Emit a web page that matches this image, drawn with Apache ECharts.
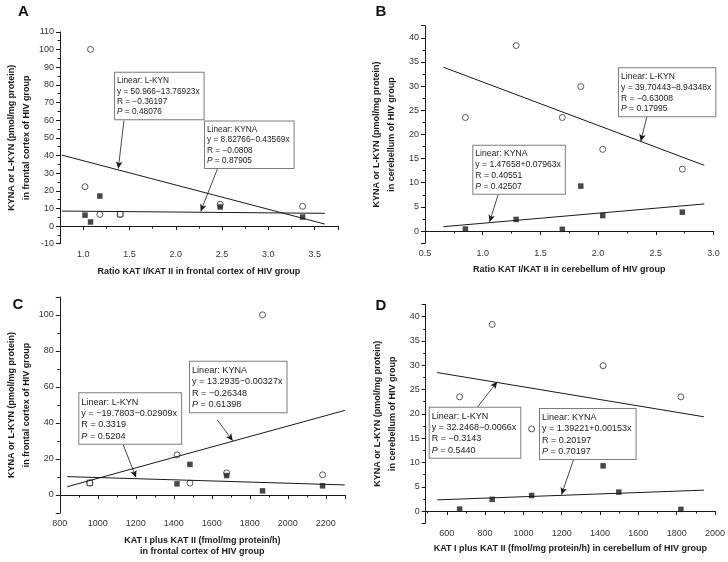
<!DOCTYPE html>
<html>
<head>
<meta charset="utf-8">
<script src="https://cdn.jsdelivr.net/npm/echarts@6/dist/echarts.min.js"></script>
<style>
  html, body { margin: 0; padding: 0; background: #fff; }
  #chart { width: 728px; height: 562px; }
</style>
</head>
<body>
<div id="chart"></div>
<script>
const FONT = '"Liberation Sans", Arial, sans-serif'
const INK = '#1a1a1a'

// frontal cortex (panels A and C), same six subjects in both
const ratioFC = [1.02, 1.08, 1.18, 1.40, 2.48, 3.37]
const katFC = [1417, 1867, 1485, 958, 1678, 2183]
const lkynFC = [22.3, 100.1, 6.6, 6.7, 12.3, 11.2]
const kynaFC = [6.2, 2.3, 17.0, 6.7, 10.8, 5.1]

// cerebellum (panels B and D)
const ratioCB = [0.85, 1.29, 1.69, 1.85, 2.04, 2.73]
const katCB = [667, 837, 1822, 1416, 1043, 1498]
const lkynCB = [23.5, 38.4, 23.5, 29.9, 16.9, 12.8]
const kynaCB = [0.4, 2.4, 0.35, 9.3, 3.2, 3.9]

// the KYNA point drawn hollow (it sits on top of the L-KYN one)
const hollowFC = 3

// fitted lines, end points
const lkynFitA = [[0.77, 40.2], [3.61, 1.1]]
const kynaFitA = [[0.77, 8.5], [3.61, 7.2]]
const lkynFitB = [[0.66, 33.9], [2.92, 13.6]]
const kynaFitB = [[0.66, 0.9], [2.92, 5.6]]
const lkynFitC = [[839, 10.2], [2300, 5.6]]
const kynaFitC = [[839, 4.6], [2300, 47.0]]
const lkynFitD = [[550, 28.5], [1942, 19.4]]
const kynaFitD = [[550, 2.3], [1942, 4.3]]

// text of the fit boxes
const statLkynA = ['Linear: L-KYN', 'y = 50.966\u221213.76923x', 'R = \u22120.36197', 'P = 0.48076']
const statKynaA = ['Linear: KYNA', 'y = 8.82766\u22120.43569x', 'R = \u22120.0808', 'P = 0.87905']
const statLkynB = ['Linear: L-KYN', 'y = 39.70443\u22128.94348x', 'R = \u22120.63008', 'P = 0.17995']
const statKynaB = ['Linear: KYNA', 'y = 1.47658+0.07963x', 'R = 0.40551', 'P = 0.42507']
const statLkynC = ['Linear: L-KYN', 'y = \u221219.7803\u22120.02909x', 'R = 0.3319', 'P = 0.5204']
const statKynaC = ['Linear: KYNA', 'y = 13.2935\u22120.00327x', 'R = \u22120.26348', 'P = 0.61398']
const statLkynD = ['Linear: L-KYN', 'y = 32.2468\u22120.0066x', 'R = \u22120.3143', 'P = 0.5440']
const statKynaD = ['Linear: KYNA', 'y = 1.39221+0.00153x', 'R = 0.20197', 'P = 0.70197']

const yNameFC = 'KYNA or L-KYN (pmol/mg protein)\nin frontal cortex of HIV group'
const yNameCB = 'KYNA or L-KYN (pmol/mg protein)\nin cerebellum of HIV group'

const pairs = (xs, ys) => xs.map((x, i) => [x, ys[i]])
const oneDecimal = v => v.toFixed(1)
const plain = v => String(Math.round(v))

const panels = [
  {
    grid: { left: 60, top: 31.9, width: 277.8, height: 211.8 },
    x: { min: 0.75, max: 3.75, splitNumber: 6, showMinLabel: false, showMaxLabel: false, fmt: oneDecimal,
         name: 'Ratio KAT I/KAT II in frontal cortex of HIV group', nameGap: 22 },
    y: { min: -10, max: 110, interval: 10, name: yNameFC },
    xs: ratioFC, lkyn: lkynFC, kyna: kynaFC, hollow: hollowFC,
    lkynFit: lkynFitA, kynaFit: kynaFitA,
    lkynArrow: [[1.44, 59.7], [1.38, 32.6]],
    kynaArrow: [[2.47, 35.0], [2.27, 8.4]],
  },
  {
    grid: { left: 425, top: 25.7, width: 288.5, height: 217.4 },
    x: { min: 0.5, max: 3.0, interval: 0.5, fmt: oneDecimal,
         name: 'Ratio KAT I/KAT II in cerebellum of HIV group', nameGap: 21 },
    y: { min: -2.5, max: 42.5, splitNumber: 9, showMinLabel: false, showMaxLabel: false, name: yNameCB },
    xs: ratioCB, lkyn: lkynCB, kyna: kynaCB, hollow: -1,
    lkynFit: lkynFitB, kynaFit: kynaFitB,
    lkynArrow: [[2.43, 24.4], [2.37, 18.6]],
    kynaArrow: [[1.14, 8.0], [1.06, 1.9]],
  },
  {
    grid: { left: 59.8, top: 297, width: 285, height: 216 },
    x: { min: 800, max: 2300, interval: 200, showMaxLabel: false, fmt: plain,
         name: 'KAT I plus KAT II (fmol/mg protein/h)\nin frontal cortex of HIV group', nameGap: 22 },
    y: { min: -10, max: 110, splitNumber: 6, showMinLabel: false, showMaxLabel: false, name: yNameFC },
    xs: katFC, lkyn: lkynFC, kyna: kynaFC, hollow: hollowFC,
    lkynFit: lkynFitC, kynaFit: kynaFitC,
    lkynArrow: [[1134, 27.8], [1201, 9.8]],
    kynaArrow: [[1629, 41.7], [1710, 30.2]],
  },
  {
    grid: { left: 425.7, top: 304.5, width: 289.3, height: 218.7 },
    x: { min: 490, max: 2000, splitNumber: 7, showMinLabel: false, fmt: plain,
         name: 'KAT I plus KAT II (fmol/mg protein/h) in cerebellum of HIV group', nameGap: 20 },
    y: { min: -2.5, max: 42.5, splitNumber: 9, showMinLabel: false, showMaxLabel: false, name: yNameCB },
    xs: katCB, lkyn: lkynCB, kyna: kynaCB, hollow: -1,
    lkynFit: lkynFitD, kynaFit: kynaFitD,
    lkynArrow: [[759, 21.3], [863, 26.6]],
    kynaArrow: [[1269, 11.4], [1199, 3.4]],
  },
]

// box positions in pixels: [panel stats, x, y, font size]
const boxes = [
  [statLkynA, 115, 72.7, 8.3],
  [statKynaA, 205, 121.5, 8.3],
  [statLkynB, 619, 68.3, 8.6],
  [statKynaB, 473.3, 145.7, 8.6],
  [statLkynC, 79.3, 393.3, 9.1],
  [statKynaC, 190, 361.7, 9.1],
  [statLkynD, 429.7, 407.7, 9.0],
  [statKynaD, 540, 409, 9.0],
]
const letters = [['A', 18, 4], ['B', 375.5, 4], ['C', 12.5, 297], ['D', 375.5, 298]]

const axisCommon = {
  axisLine: { lineStyle: { color: INK, width: 1 } },
  axisTick: { show: true, length: 4, lineStyle: { color: INK, width: 1 } },
  minorTick: { show: true, splitNumber: 2, length: 2.5, lineStyle: { color: INK, width: 1 } },
  splitLine: { show: false },
  minorSplitLine: { show: false },
  nameLocation: 'middle',
}

const option = {
  animation: false,
  backgroundColor: '#fff',
  grid: panels.map(p => Object.assign({ containLabel: false }, p.grid)),
  xAxis: panels.map((p, i) => Object.assign({}, axisCommon, {
    type: 'value', gridIndex: i, min: p.x.min, max: p.x.max,
    interval: p.x.interval, splitNumber: p.x.splitNumber,
    name: p.x.name, nameGap: p.x.nameGap,
    nameTextStyle: { fontFamily: FONT, fontSize: 9, fontWeight: 'bold', color: INK, lineHeight: 11 },
    axisLabel: {
      fontFamily: FONT, fontSize: 9, color: '#333', margin: 6, formatter: p.x.fmt,
      showMinLabel: p.x.showMinLabel, showMaxLabel: p.x.showMaxLabel,
    },
  })),
  yAxis: panels.map((p, i) => Object.assign({}, axisCommon, {
    type: 'value', gridIndex: i, min: p.y.min, max: p.y.max,
    interval: p.y.interval, splitNumber: p.y.splitNumber,
    name: p.y.name, nameGap: 26, nameRotate: 90,
    nameTextStyle: { fontFamily: FONT, fontSize: 9, fontWeight: 'bold', color: INK, lineHeight: 15 },
    axisLabel: {
      fontFamily: FONT, fontSize: 9, color: '#333', margin: 6, formatter: plain,
      showMinLabel: p.y.showMinLabel, showMaxLabel: p.y.showMaxLabel,
    },
  })),
  series: [],
  graphic: [],
}

const arrowLine = seg => ({
  silent: true,
  symbol: ['none', 'arrow'],
  symbolSize: [5, 7],
  label: { show: false },
  lineStyle: { color: INK, width: 0.8, type: 'solid' },
  emphasis: { disabled: true },
  data: [[{ coord: seg[0] }, { coord: seg[1] }]],
})

panels.forEach((p, i) => {
  option.series.push({
    type: 'scatter', xAxisIndex: i, yAxisIndex: i,
    symbol: 'circle', symbolSize: 6,
    itemStyle: { color: '#fff', borderColor: INK, borderWidth: 0.9 },
    data: pairs(p.xs, p.lkyn),
  })
  option.series.push({
    type: 'scatter', xAxisIndex: i, yAxisIndex: i,
    symbol: 'rect', symbolSize: 5.5,
    itemStyle: { color: INK },
    data: pairs(p.xs, p.kyna).map((d, k) => k === p.hollow
      ? { value: d, itemStyle: { color: '#fff', borderColor: INK, borderWidth: 1 } }
      : d),
  })
  option.series.push({
    type: 'line', xAxisIndex: i, yAxisIndex: i, symbol: 'none',
    lineStyle: { color: INK, width: 1 },
    data: p.lkynFit,
    markLine: arrowLine(p.lkynArrow),
  })
  option.series.push({
    type: 'line', xAxisIndex: i, yAxisIndex: i, symbol: 'none',
    lineStyle: { color: INK, width: 1 },
    data: p.kynaFit,
    markLine: arrowLine(p.kynaArrow),
  })
})

boxes.forEach(([lines, x, y, fs]) => {
  const lh = fs * 1.25
  option.graphic.push({
    type: 'text', x: x, y: y, z: 100,
    style: {
      text: lines.map(l => l.startsWith('P ') ? '{i|P}' + l.slice(1) : l).join('\n'),
      fontFamily: FONT, fontSize: fs, lineHeight: lh, fill: INK,
      backgroundColor: '#fff', borderColor: '#7d7d7d', borderWidth: 1,
      padding: [3, 4, 2, 2],
      rich: { i: { fontStyle: 'italic', fontFamily: FONT, fontSize: fs, lineHeight: lh, fill: INK } },
    },
  })
})

letters.forEach(([t, x, y]) => {
  option.graphic.push({
    type: 'text', x: x, y: y, z: 100,
    style: { text: t, fontFamily: FONT, fontSize: 15, fontWeight: 'bold', fill: '#111' },
  })
})

const chart = echarts.init(document.getElementById('chart'), null, { renderer: 'canvas' })
chart.setOption(option)
</script>
</body>
</html>
